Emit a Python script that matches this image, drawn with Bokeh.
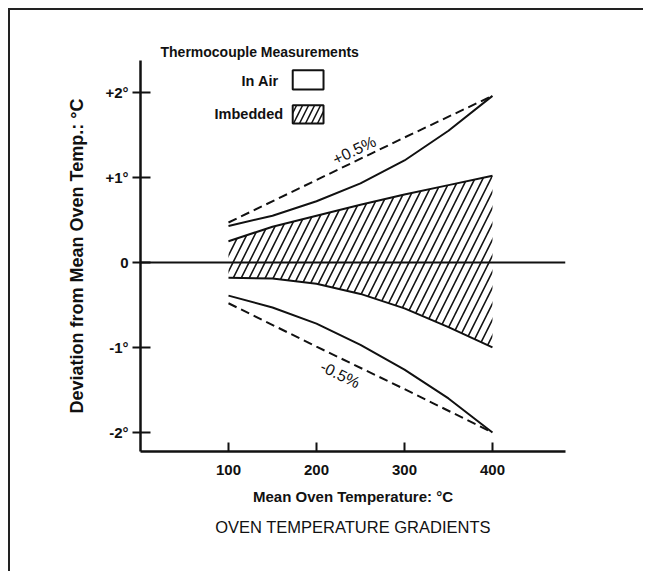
from bokeh.plotting import figure
from bokeh.models import (FixedTicker, Span, Label, BoxAnnotation, Title, Range1d)
from bokeh.embed import file_html
from bokeh.resources import INLINE

# ---- data ----
temps = [100, 150, 200, 250, 300, 350, 400]
air_upper = [0.43, 0.55, 0.72, 0.93, 1.20, 1.55, 1.96]
air_lower = [-0.39, -0.53, -0.72, -0.97, -1.26, -1.60, -2.00]
imb_upper = [0.25, 0.42, 0.55, 0.68, 0.80, 0.91, 1.02]
imb_lower = [-0.18, -0.19, -0.25, -0.37, -0.54, -0.76, -1.00]
pct_temps = [100, 200, 300, 400]
plus_half_pct = [0.47, 0.97, 1.47, 1.96]
minus_half_pct = [-0.48, -0.99, -1.49, -2.00]

x_ticks = [100, 200, 300, 400]
y_ticks = [-2, -1, 0, 1, 2]
y_tick_labels = {-2: "-2°", -1: "-1°", 0: "0", 1: "+1°", 2: "+2°"}

FONT = "Liberation Sans"
INK = "#111111"

p = figure(width=635, height=563, output_backend="svg", toolbar_location=None,
           x_range=Range1d(0, 483), y_range=Range1d(-2.224, 2.376),
           min_border_left=130, min_border_right=80, min_border_top=50,
           min_border_bottom=122, background_fill_color="white",
           border_fill_color="white")
p.styles = {"border-top": "2px solid #222", "border-left": "2px solid #222",
            "margin-left": "8px", "margin-top": "8px"}
p.outline_line_color = None
p.grid.visible = False

# legend heading, drawn as the plot title just above the frame
p.title = Title(text="Thermocouple Measurements", align="left", offset=20,
                standoff=1, text_font=FONT, text_font_size="14px",
                text_font_style="bold", text_color=INK)

# axes
p.xaxis.ticker = FixedTicker(ticks=x_ticks)
p.yaxis.ticker = FixedTicker(ticks=y_ticks)
p.yaxis.major_label_overrides = y_tick_labels
for ax in (p.xaxis, p.yaxis):
    ax.axis_line_width = 2.5
    ax.axis_line_color = INK
    ax.major_tick_line_width = 2
    ax.major_tick_line_color = INK
    ax.minor_tick_line_color = None
    ax.major_label_text_font = FONT
    ax.major_label_text_font_style = "bold"
    ax.major_label_text_color = INK
    ax.axis_label_text_font = FONT
    ax.axis_label_text_font_style = "bold"
    ax.axis_label_text_color = INK
p.xaxis.major_tick_in = 9
p.xaxis.major_tick_out = 0
p.xaxis.major_label_text_font_size = "15px"
p.xaxis.major_label_standoff = 13
p.xaxis.axis_label = "Mean Oven Temperature: °C"
p.xaxis.axis_label_text_font_size = "15px"
p.xaxis.axis_label_standoff = 10

p.yaxis.major_tick_in = 10
p.yaxis.major_tick_out = 8
p.yaxis.major_label_text_font_size = "15px"
p.yaxis.major_label_standoff = 4
p.yaxis.axis_label = "Deviation from Mean Oven Temp.: °C"
p.yaxis.axis_label_text_font_size = "18px"
p.yaxis.axis_label_standoff = 15

# zero line
p.add_layout(Span(location=0, dimension="width", line_color=INK, line_width=2))

# imbedded (hatched) band
p.varea(x=temps, y1=imb_lower, y2=imb_upper, fill_color="white", fill_alpha=0,
        hatch_pattern="/", hatch_color=INK, hatch_scale=16, hatch_weight=1.6)
p.line(temps, imb_upper, line_color=INK, line_width=2)
p.line(temps, imb_lower, line_color=INK, line_width=2)

# in-air curves
p.line(temps, air_upper, line_color=INK, line_width=2)
p.line(temps, air_lower, line_color=INK, line_width=2)

# +/-0.5% reference lines
p.line(pct_temps, plus_half_pct, line_color=INK, line_width=2, line_dash="9 5")
p.line(pct_temps, minus_half_pct, line_color=INK, line_width=2, line_dash="9 5")

p.add_layout(Label(x=243, y=1.32, text="+0.5%", angle=0.45, text_align="center",
                   text_baseline="middle", text_font=FONT, text_font_size="16px",
                   text_color=INK))
p.add_layout(Label(x=227, y=-1.32, text="-0.5%", angle=-0.45, text_align="center",
                   text_baseline="middle", text_font=FONT, text_font_size="16px",
                   text_color=INK))

# legend entries
p.add_layout(Label(x=157, y=2.13, text="In Air", text_align="right",
                   text_baseline="middle", text_font=FONT, text_font_size="14.5px",
                   text_font_style="bold", text_color=INK))
p.add_layout(Label(x=162, y=1.75, text="Imbedded", text_align="right",
                   text_baseline="middle", text_font=FONT, text_font_size="14.5px",
                   text_font_style="bold", text_color=INK))
p.add_layout(BoxAnnotation(left=173, right=208, top=2.26, bottom=2.035,
                           fill_color="white", fill_alpha=1, line_color=INK,
                           line_width=2, line_alpha=1))
p.add_layout(BoxAnnotation(left=173, right=208, top=1.85, bottom=1.635,
                           fill_color="white", fill_alpha=1, line_color=INK,
                           line_width=2, line_alpha=1, hatch_pattern="/",
                           hatch_color=INK, hatch_scale=12, hatch_weight=1.5))

p.add_layout(Title(text="OVEN TEMPERATURE GRADIENTS", align="center",
                   text_font=FONT, text_font_size="16.5px", text_font_style="normal",
                   text_color=INK, standoff=16), "below")

open("out.html", "w").write(file_html(p, INLINE))
